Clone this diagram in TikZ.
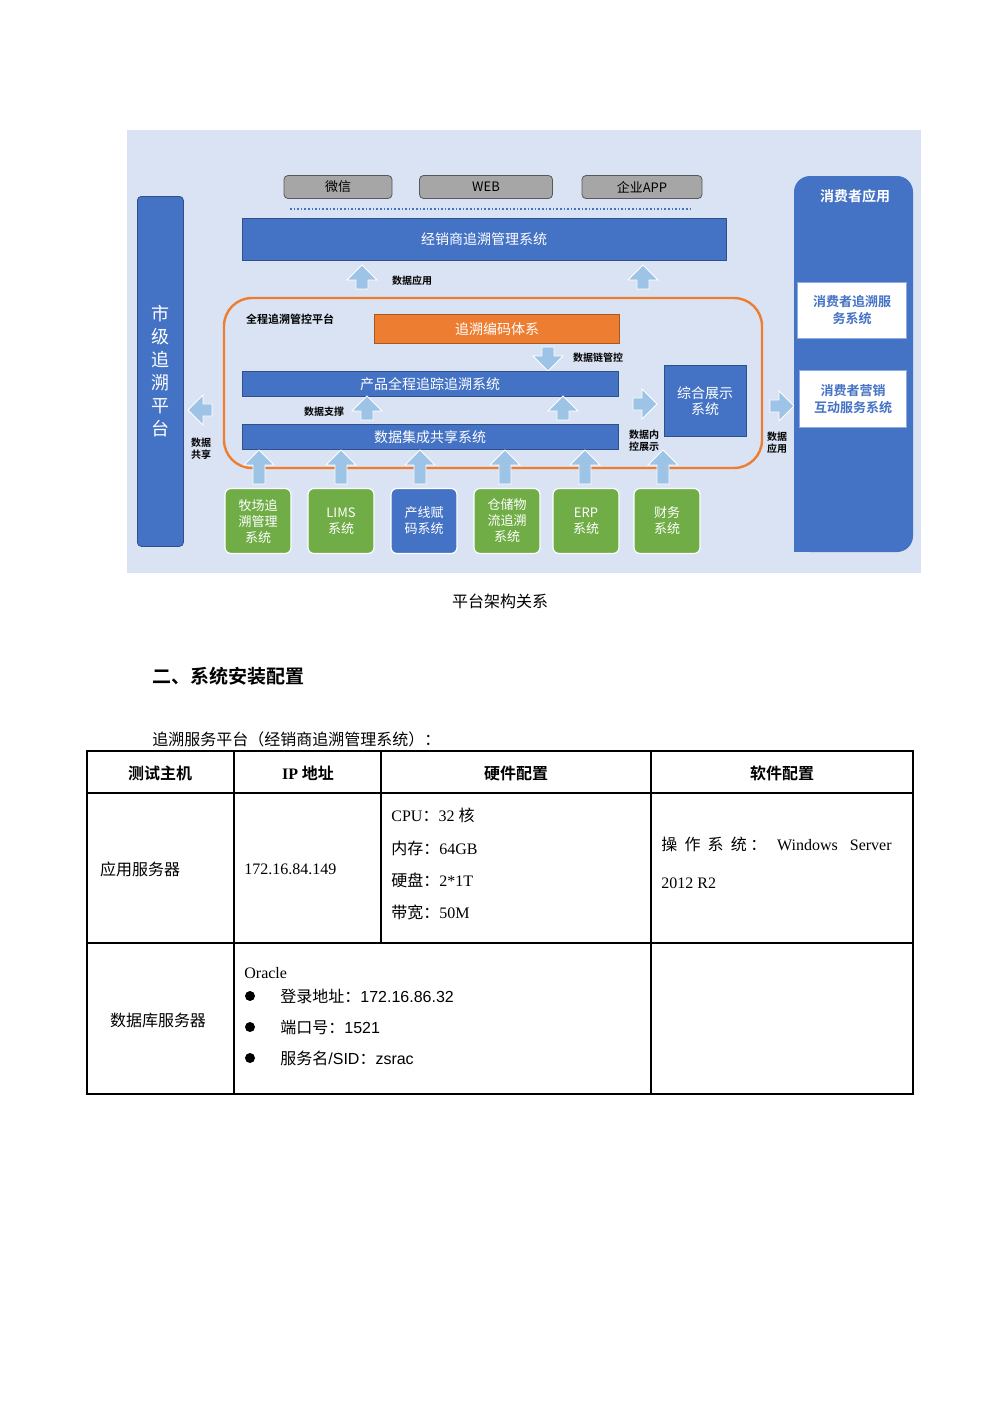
\documentclass[tikz,border=0pt]{standalone}
\usepackage{fontspec}
\setmainfont{Liberation Serif}
\newfontfamily\cjk{Noto Sans CJK SC}
\newfontfamily\cjkb{Noto Sans CJK SC Bold}
\newfontfamily\lsans{Liberation Sans}
\usetikzlibrary{shapes.arrows}
\definecolor{bg}{HTML}{DAE3F3}
\definecolor{bl}{HTML}{4472C4}
\definecolor{gr}{HTML}{70AD47}
\definecolor{org}{HTML}{ED7D31}
\definecolor{ar}{HTML}{9DC3E6}
\definecolor{gy}{HTML}{A6A6A6}
\tikzset{
 bbox/.style={draw=bl!70!black,fill=bl,text=white,font=\cjk\fontsize{7}{8}\selectfont,inner sep=0},
 gbox/.style={draw=white,line width=0.6pt,fill=gr,text=white,rounded corners=3pt,font=\cjk\fontsize{6.5}{8}\selectfont,align=center,inner sep=0},
 tab/.style={draw=gray!70!black,fill=gy,rounded corners=2pt,font=\cjk\fontsize{6.5}{8}\selectfont,inner sep=0},
 uar/.style={single arrow,shape border rotate=90,fill=ar,draw=white,minimum height=12pt,minimum width=15pt,single arrow head extend=2.5pt,inner sep=1.5pt},
 lbl/.style={font=\cjkb\fontsize{5}{6}\selectfont,align=left,inner sep=0},
 tt/.style={font=\cjk\fontsize{8}{10}\selectfont,inner sep=0},
}
\begin{document}
\begin{tikzpicture}[x=0.5pt,y=-0.5pt]
\useasboundingbox (0,0) rectangle (1000,1415);
\fill[bg] (127,130) rectangle (921,573);
\node[bbox,minimum width=46*0.5pt,minimum height=350*0.5pt,anchor=north west,rounded corners=2pt,font=\cjk\fontsize{9}{11.5}\selectfont,align=center] (city) at (137,196) {市\\级\\追\\溯\\平\\台};
\node[tab,minimum width=108*0.5pt,minimum height=23*0.5pt] (wx) at (338,187) {微信};
\node[tab,minimum width=133*0.5pt,minimum height=23*0.5pt] (web) at (486,187) {WEB};
\node[tab,minimum width=120*0.5pt,minimum height=23*0.5pt] (app) at (642,187) {企业APP};
\draw[bl,densely dotted,line width=0.8pt] (290,209) -- (690,209);
\node[bbox,minimum width=484*0.5pt,minimum height=42*0.5pt] (dist) at (484,239) {经销商追溯管理系统};
\node[uar] (a1) at (362,280) {};
\node[uar] (a2) at (643,280) {};
\node[lbl] at (412,281) {数据应用};
\draw[org,line width=1.2pt,rounded corners=14pt] (224,298) rectangle (762,468);
\node[lbl,font=\cjkb\fontsize{5.5}{6}\selectfont] at (290,319) {全程追溯管控平台};
\node[bbox,fill=org,draw=org!70!black,minimum width=245*0.5pt,minimum height=29*0.5pt] (code) at (497,329) {追溯编码体系};
\node[uar,shape border rotate=270] (a3) at (548,356) {};
\node[lbl] at (598,358) {数据链管控};
\node[bbox,minimum width=376*0.5pt,minimum height=25*0.5pt] (prod) at (430,384) {产品全程追踪追溯系统};
\node[uar] (a4) at (367,411) {};
\node[uar] (a5) at (563,411) {};
\node[lbl] at (324,412) {数据支撑};
\node[bbox,minimum width=376*0.5pt,minimum height=25*0.5pt] (share) at (430,437) {数据集成共享系统};
\node[bbox,minimum width=82*0.5pt,minimum height=71*0.5pt,align=center] (show) at (705,401) {综合展示\\系统};
\node[uar,shape border rotate=0] (a6) at (642,404) {};
\node[lbl] at (644,441) {数据内\\控展示};
\node[uar,shape border rotate=180] (a7) at (203,410) {};
\node[lbl] at (201,449) {数据\\共享};
\node[uar,shape border rotate=0] (a8) at (779,406) {};
\node[lbl] at (777,443) {数据\\应用};
\fill[bl,rounded corners=8pt] (794,176) rectangle (913,552);
\fill[bl] (794,530) rectangle (820,552);
\node[font=\cjkb\fontsize{7}{8}\selectfont,text=white] (cons) at (855,196) {消费者应用};
\node[draw=bl!60,fill=white,text=bl,font=\cjkb\fontsize{6.5}{8.5}\selectfont,align=center,minimum width=109*0.5pt,minimum height=56*0.5pt,inner sep=0] (c1) at (852,310) {消费者追溯服\\务系统};
\node[draw=bl!60,fill=white,text=bl,font=\cjkb\fontsize{6.5}{8.5}\selectfont,align=center,minimum width=107*0.5pt,minimum height=57*0.5pt,inner sep=0] (c2) at (853,399) {消费者营销\\互动服务系统};
\foreach \x/\t/\c/\n in {258/牧场追\\溯管理\\系统/gr/g1,341/LIMS\\系统/gr/g2,424/产线赋\\码系统/bl/g3,507/仓储物\\流追溯\\系统/gr/g4,586/ERP\\系统/gr/g5,667/财务\\系统/gr/g6}{
 \node[gbox,fill=\c,minimum width=66*0.5pt,minimum height=65*0.5pt] (\n) at (\x,521) {\t};
}
\foreach \x in {259,341,420,505,585,663}{\node[uar,minimum height=17pt] at (\x,470) {};}
\node[tt] (cap) at (500,601) {平台架构关系};
\node[font=\cjkb\fontsize{9.5}{11}\selectfont,anchor=west,inner sep=0] (h) at (152,676) {二、系统安装配置};
\node[tt,anchor=west] (sub) at (152,739) {追溯服务平台（经销商追溯管理系统）：};
\draw[line width=0.6pt] (87,751) rectangle (913,1094);
\draw[line width=0.6pt] (87,793) -- (913,793) (87,943) -- (913,943) (234,751) -- (234,1094) (651,751) -- (651,1094) (381,751) -- (381,943);
\node[font=\cjkb\fontsize{8}{10}\selectfont] at (160,773) {测试主机};
\node[font=\cjkb\fontsize{8}{10}\selectfont] at (308,773) {{\rmfamily\bfseries IP} 地址};
\node[font=\cjkb\fontsize{8}{10}\selectfont] at (516,773) {硬件配置};
\node[font=\cjkb\fontsize{8}{10}\selectfont] at (782,773) {软件配置};
\node[tt] at (140,869) {应用服务器};
\node[tt,anchor=west] at (244,869) {\rmfamily 172.16.84.149};
\node[tt,anchor=west] at (391,815) {\rmfamily CPU\cjk：\rmfamily 32 \cjk 核};
\node[tt,anchor=west] at (391,848) {内存：\rmfamily 64GB};
\node[tt,anchor=west] at (391,880) {硬盘：\rmfamily 2*1T};
\node[tt,anchor=west] at (391,912) {带宽：\rmfamily 50M};
\node[tt,anchor=west] at (661,844) {操\ \ 作\ \ 系\ \ 统\ ：\ \ \ \rmfamily Windows\ \ \ Server};
\node[tt,anchor=west] at (661,883) {\rmfamily 2012 R2};
\node[tt] at (158,1020) {数据库服务器};
\node[tt,anchor=west] at (244,973) {\rmfamily Oracle};
\foreach \y/\t in {996/登录地址：{\lsans 172.16.86.32},1027/端口号：{\lsans 1521},1058/服务名{\lsans /SID}：{\lsans zsrac}}{
 \fill (250,\y) circle (5);
 \node[tt,anchor=west] at (280,\y) {\t};
}
\end{tikzpicture}
\end{document}
